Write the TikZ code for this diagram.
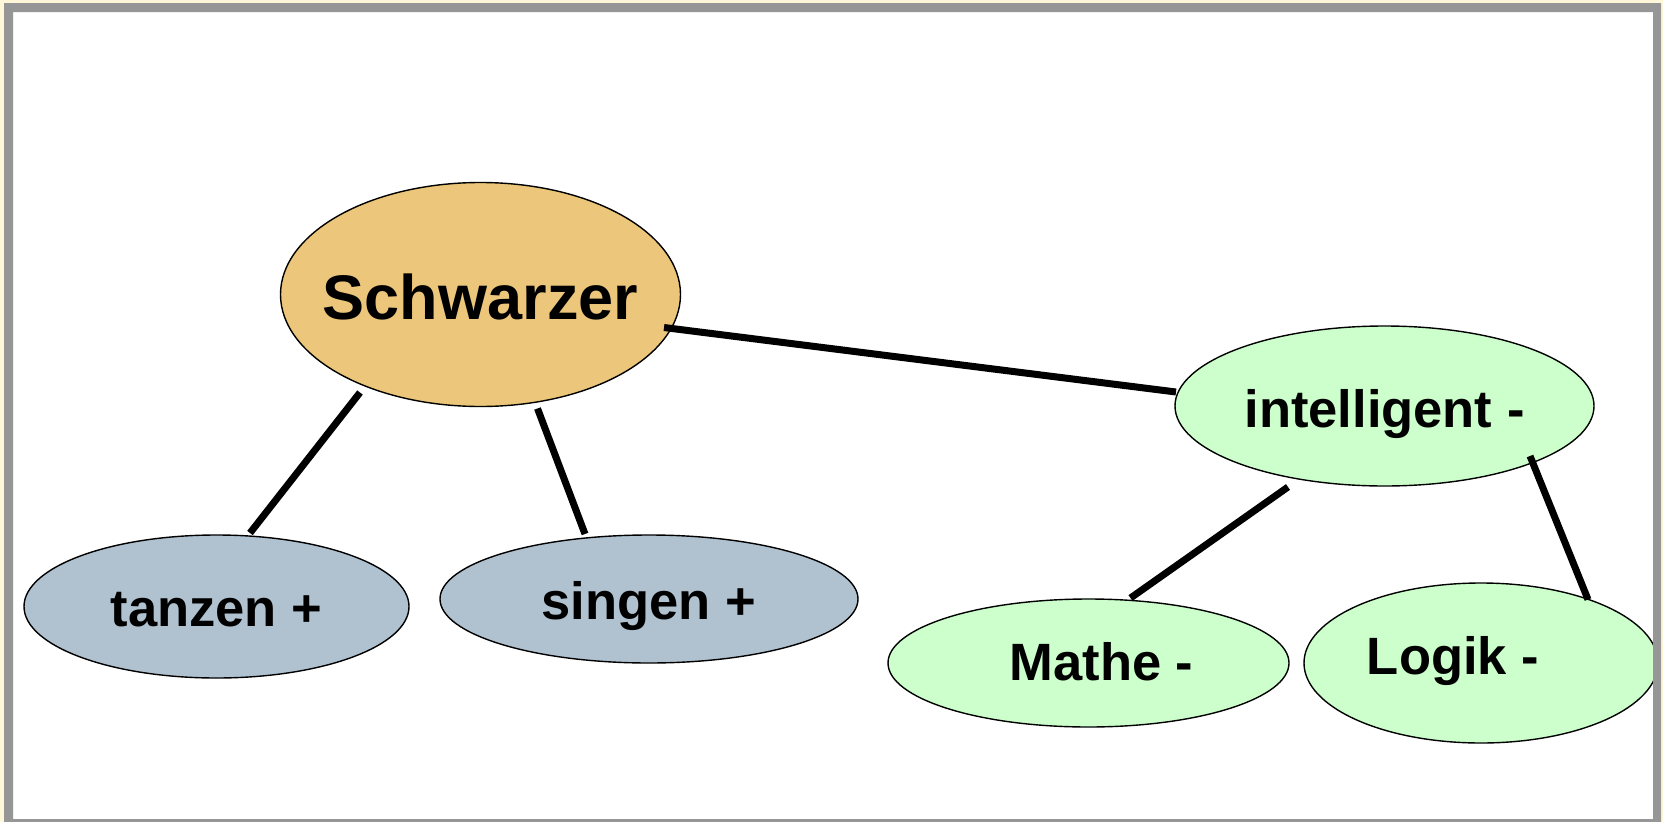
\documentclass[tikz,border=0pt]{standalone}
\usepackage{fontspec}
\setmainfont{Liberation Sans}
\usetikzlibrary{shapes.geometric,calc}
\definecolor{tanfill}{RGB}{236,198,122}
\definecolor{bluefill}{RGB}{176,194,208}
\definecolor{greenfill}{RGB}{204,255,204}
\definecolor{framegray}{RGB}{150,150,150}
\definecolor{creambg}{RGB}{255,248,216}
\newcommand{\lbl}[3]{\makebox[0pt][c]{\hspace*{#1}\raisebox{#2}{#3}}}
\tikzset{
  bubble/.style={ellipse, draw=black, line width=1.4pt, inner sep=0pt, outer sep=0pt,
    text height=0pt, text depth=0pt, font=\fontsize{52.5}{60}\selectfont\bfseries},
  tannode/.style={bubble, fill=tanfill, font=\fontsize{63}{72}\selectfont\bfseries},
  bluenode/.style={bubble, fill=bluefill},
  greennode/.style={bubble, fill=greenfill},
  link/.style={line width=7pt, black}
}
\begin{document}
\begin{tikzpicture}[x=1pt,y=-1pt]
\useasboundingbox (0,0) rectangle (1663,822);
\fill[creambg] (0,0) rectangle (1663,822);
\fill[white] (10,9) rectangle (1656,821);

\node[tannode, minimum width=400pt, minimum height=224pt] (schw) at (480.5,294.5) {\lbl{0pt}{-25pt}{Schwarzer}};
\node[greennode, minimum width=419pt, minimum height=160pt] (intel) at (1384.5,406) {\lbl{0pt}{-21pt}{intelligent -}};
\node[bluenode, minimum width=385pt, minimum height=143pt] (tanz) at (216.5,606.5) {\lbl{0pt}{-20pt}{tanzen +}};
\node[bluenode, minimum width=418pt, minimum height=128pt] (sing) at (649,599) {\lbl{0pt}{-20.5pt}{singen +}};
\node[greennode, minimum width=401pt, minimum height=128pt] (math) at (1088.5,663) {\lbl{26pt}{-17pt}{Mathe -}};
\node[greennode, minimum width=354pt, minimum height=160pt] (logik) at (1481,663) {\lbl{-56pt}{-11pt}{Logik -}};

\draw[link] ($(schw)+(183.5,33)$) -- ($(intel)+(-208.5,-14)$);
\draw[link] ($(schw)+(-120.5,98)$) -- ($(tanz)+(33.5,-73.5)$);
\draw[link] ($(schw)+(57,114)$) -- ($(sing)+(-64,-65)$);
\draw[link] ($(intel)+(-96.5,81)$) -- ($(math)+(42,-65)$);
\draw[link] ($(intel)+(145.5,50)$) -- ($(logik)+(107,-63.5)$);

\fill[framegray, even odd rule] (4,3) rectangle (1661,823) (13,12) rectangle (1653,819);
\end{tikzpicture}
\end{document}
